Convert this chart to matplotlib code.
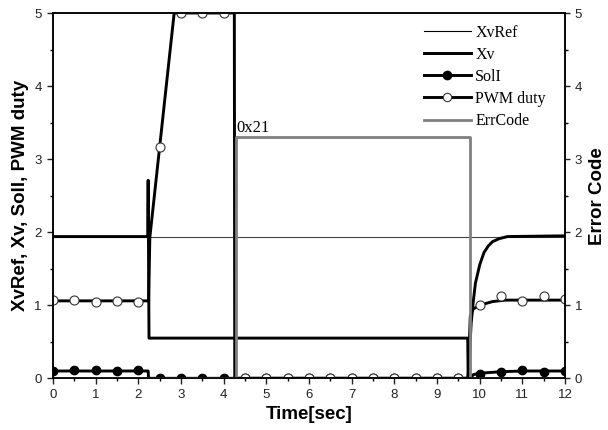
import matplotlib
matplotlib.use('Agg')
from matplotlib import pyplot as plt
from matplotlib.lines import Line2D

# datos
xvref_t = [0, 12]
xvref_v = [1.93, 1.93]

xv_t = [0, 2.22, 2.23, 2.25, 9.72, 9.73, 9.76, 9.8, 9.85, 9.9, 10.0, 10.1, 10.2,
        10.3, 10.45, 10.65, 12]
xv_v = [1.94, 1.94, 2.71, 0.55, 0.55, 0.0, 0.3, 0.75, 1.05, 1.3, 1.55, 1.72, 1.81,
        1.87, 1.91, 1.94, 1.95]

pwm_t = [0, 2.24, 2.27, 2.84, 4.25, 4.26, 9.73, 9.78, 9.85, 10.0, 10.3, 10.6, 12]
pwm_v = [1.06, 1.06, 1.93, 5.0, 5.0, 0.0, 0.0, 0.85, 0.95, 1.0, 1.05, 1.07, 1.07]
pwm_mark_t = [0, 0.5, 1, 1.5, 2, 2.5, 3, 3.5, 4, 4.5, 5, 5.5, 6, 6.5, 7, 7.5, 8,
              8.5, 9, 9.5, 10, 10.5, 11, 11.5, 12]
pwm_mark_v = [1.07, 1.07, 1.05, 1.06, 1.05, 3.16, 5, 5, 5, 0, 0, 0, 0, 0, 0, 0, 0,
              0, 0, 0, 1.01, 1.12, 1.06, 1.12, 1.08]

soli_t = [0, 2.23, 2.24, 9.78, 9.85, 10.0, 10.5, 11.0, 12]
soli_v = [0.10, 0.10, 0.0, 0.0, 0.05, 0.07, 0.09, 0.10, 0.10]
soli_mark_t = pwm_mark_t
soli_mark_v = [0.10, 0.11, 0.11, 0.10, 0.11, 0, 0, 0, 0, 0, 0, 0, 0, 0, 0, 0, 0,
               0, 0, 0, 0.06, 0.09, 0.12, 0.09, 0.10]

err_t = [0, 4.28, 4.28, 9.78, 9.78, 12]
err_v = [0, 0, 3.3, 3.3, 0, 0]

serif = ['Liberation Serif', 'DejaVu Serif']
sans = ['Liberation Sans', 'DejaVu Sans']
plt.rcParams['font.family'] = sans

fig = plt.figure(figsize=(6.08, 4.30), dpi=100)
ax = fig.add_axes([53 / 608, 1 - 378.3 / 430, 512 / 608, 365.3 / 430])
ax2 = ax.twinx()

lw = 2.1
ax.plot(xvref_t, xvref_v, color='#444444', lw=0.8)
ax.plot(xv_t, xv_v, color='black', lw=lw)
ax.plot(soli_t, soli_v, color='black', lw=lw)
ax.plot(soli_mark_t, soli_mark_v, ls='none', marker='o', ms=6,
        mfc='black', mec='black')
ax.plot(pwm_t, pwm_v, color='black', lw=lw)
ax.plot(pwm_mark_t, pwm_mark_v, ls='none', marker='o', ms=6.5,
        mfc='white', mec='#333333', mew=0.8)

ax2.plot(err_t, err_v, color='#808080', lw=2.0)
ax2.text(4.30, 3.37, '0x21', family=serif, fontsize=12, va='baseline')

for a in (ax, ax2):
    a.set_xlim(0, 12)
    a.set_ylim(0, 5)
    for s in a.spines.values():
        s.set_linewidth(1.1)

ax.set_xticks(range(0, 13))
ax.set_xticks([i + 0.5 for i in range(12)], minor=True)
ax.set_yticks(range(0, 6))
ax.set_yticks([i + 0.5 for i in range(5)], minor=True)
ax2.set_yticks(range(0, 6))
ax2.set_yticks([i + 0.5 for i in range(5)], minor=True)

ax.tick_params(which='major', direction='out', length=4.5, width=1, labelsize=9.5,
               pad=3.5, colors='#222222')
ax.tick_params(which='minor', direction='out', length=2.5, width=1)
ax2.tick_params(which='major', direction='out', length=3.5, width=1, labelsize=9.5,
                pad=3.5, colors='#222222')
ax2.tick_params(which='minor', direction='out', length=2.5, width=1)

ax.set_xlabel('Time[sec]', fontsize=13.5, fontweight='bold', labelpad=3)
ax.set_ylabel('XvRef, Xv, SolI, PWM duty', fontsize=13.5, fontweight='bold',
              labelpad=4)
ax2.set_ylabel('Error Code', fontsize=13.5, fontweight='bold', labelpad=5)

handles = [
    Line2D([], [], color='black', lw=0.8),
    Line2D([], [], color='black', lw=lw),
    Line2D([], [], color='black', lw=lw, marker='o', ms=6, mfc='black'),
    Line2D([], [], color='black', lw=lw, marker='o', ms=6, mfc='white',
           mec='#333333', mew=0.8),
    Line2D([], [], color='#808080', lw=2.0),
]
labels = ['XvRef', 'Xv', 'SolI', 'PWM duty', 'ErrCode']
ax2.legend(handles, labels, loc='upper right', bbox_to_anchor=(0.975, 0.985),
           frameon=False, prop={'family': serif, 'size': 11.5},
           handlelength=2.9, handletextpad=0.3, labelspacing=0.38,
           borderaxespad=0)

plt.savefig('out.png', dpi=100)
